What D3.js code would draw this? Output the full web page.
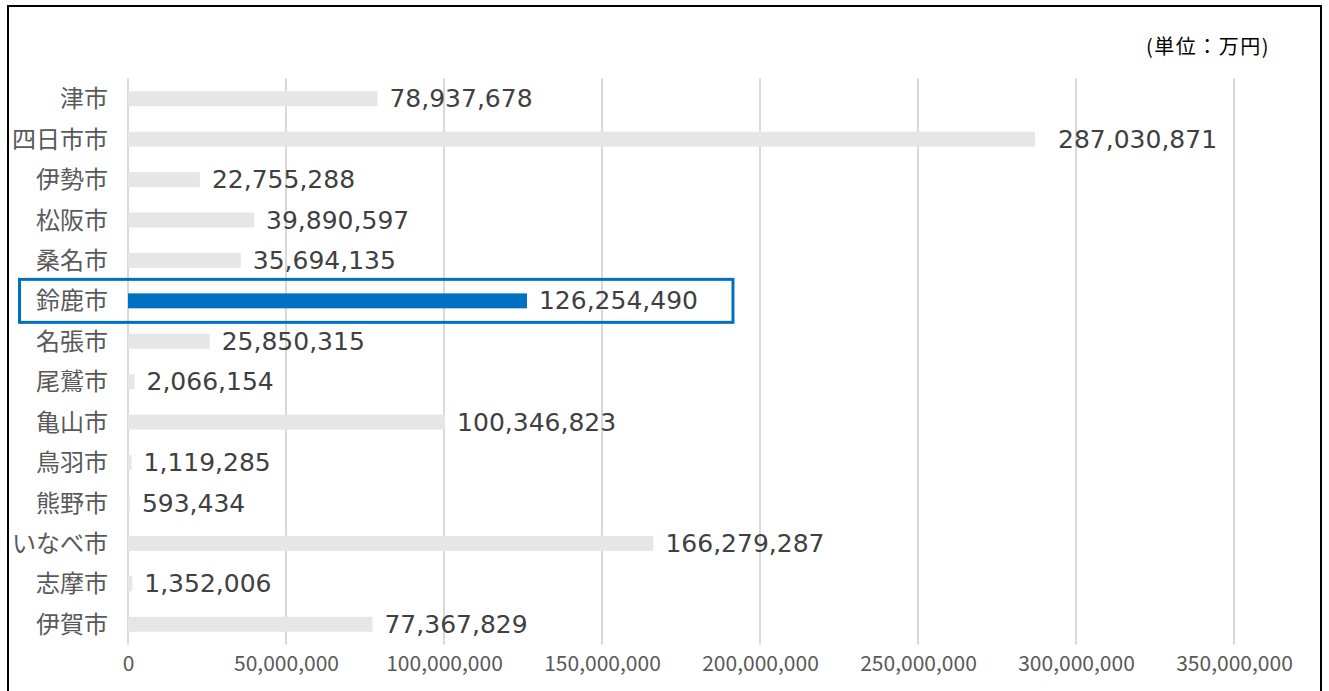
<!DOCTYPE html>
<html>
<head>
<meta charset="utf-8">
<script src="https://cdn.jsdelivr.net/npm/d3@7"></script>
<style>
  body { margin: 0; background: #fff; }
  svg { display: block; }
</style>
</head>
<body>
<svg id="chart" width="1329" height="691"></svg>
<script>
const cities = ['津市', '四日市市', '伊勢市', '松阪市', '桑名市', '鈴鹿市', '名張市',
  '尾鷲市', '亀山市', '鳥羽市', '熊野市', 'いなべ市', '志摩市', '伊賀市'];
const amounts = [78937678, 287030871, 22755288, 39890597, 35694135, 126254490, 25850315,
  2066154, 100346823, 1119285, 593434, 166279287, 1352006, 77367829];
const xTicks = [0, 50000000, 100000000, 150000000, 200000000, 250000000, 300000000, 350000000];
const highlightCity = '鈴鹿市';
const unitLabel = '(単位：万円)';

const data = cities.map((c, i) => ({ city: c, value: amounts[i] }));

const svg = d3.select('#chart');
const plotLeft = 128, plotRight = 1234, plotTop = 78.5, plotBottom = 644.5;

const x = d3.scaleLinear().domain([0, 350000000]).range([plotLeft, plotRight]);
const y = d3.scaleBand().domain(cities).range([plotTop, plotBottom]).paddingInner(0.63).paddingOuter(0.315);
const fmt = d3.format(',');

// frame
svg.append('rect')
  .attr('x', 8).attr('y', 6).attr('width', 1313).attr('height', 700)
  .attr('fill', 'none').attr('stroke', '#000').attr('stroke-width', 2);

// gridlines
svg.append('g')
  .selectAll('line')
  .data(xTicks)
  .enter().append('line')
  .attr('x1', d => x(d)).attr('x2', d => x(d))
  .attr('y1', plotTop).attr('y2', plotBottom)
  .attr('stroke', '#d9d9d9').attr('stroke-width', 2);

// x axis labels
const xAxis = d3.axisBottom(x).tickValues(xTicks).tickFormat(fmt).tickSize(0).tickPadding(0);
const gx = svg.append('g')
  .attr('transform', `translate(0, ${plotBottom + 12})`)
  .call(xAxis);
gx.select('.domain').remove();
gx.selectAll('text')
  .attr('dy', '0.71em')
  .attr('fill', '#595959')
  .style('font-family', '"Noto Sans CJK JP", "Noto Sans", sans-serif')
  .style('font-size', '21px');

// bars
svg.append('g')
  .selectAll('rect')
  .data(data)
  .enter().append('rect')
  .attr('x', x(0))
  .attr('y', d => y(d.city))
  .attr('width', d => x(d.value) - x(0))
  .attr('height', y.bandwidth())
  .attr('fill', d => d.city === highlightCity ? '#0070c0' : '#e6e6e6');

// value labels (the longest one sits a little further out in the original)
svg.append('g')
  .selectAll('text')
  .data(data)
  .enter().append('text')
  .attr('x', d => x(d.value) + (d.value > 250000000 ? 23 : 12))
  .attr('y', d => y(d.city) + y.bandwidth() / 2)
  .attr('dy', '0.34em')
  .attr('fill', '#404040')
  .style('font-family', '"DejaVu Sans", sans-serif')
  .style('font-size', '25px')
  .text(d => fmt(d.value));

// category labels
svg.append('g')
  .selectAll('text')
  .data(data)
  .enter().append('text')
  .attr('x', plotLeft - 20)
  .attr('y', d => y(d.city) + y.bandwidth() / 2)
  .attr('dy', '0.36em')
  .attr('text-anchor', 'end')
  .attr('fill', '#595959')
  .style('font-family', '"Noto Sans CJK JP", sans-serif')
  .style('font-size', '24px')
  .text(d => d.city);

// highlight box around the focus row
const hc = y(highlightCity) + y.bandwidth() / 2;
svg.append('rect')
  .attr('x', 19.5)
  .attr('y', hc - 21.5)
  .attr('width', x(126254490) + 206 - 19.5)
  .attr('height', 43)
  .attr('fill', 'none')
  .attr('stroke', '#0070c0')
  .attr('stroke-width', 3);

// unit label
svg.append('text')
  .attr('x', 1270).attr('y', 54)
  .attr('text-anchor', 'end')
  .attr('fill', '#000')
  .style('font-family', '"Noto Sans CJK JP", sans-serif')
  .style('font-size', '20px')
  .style('letter-spacing', '1.5px')
  .text(unitLabel);
</script>
</body>
</html>
